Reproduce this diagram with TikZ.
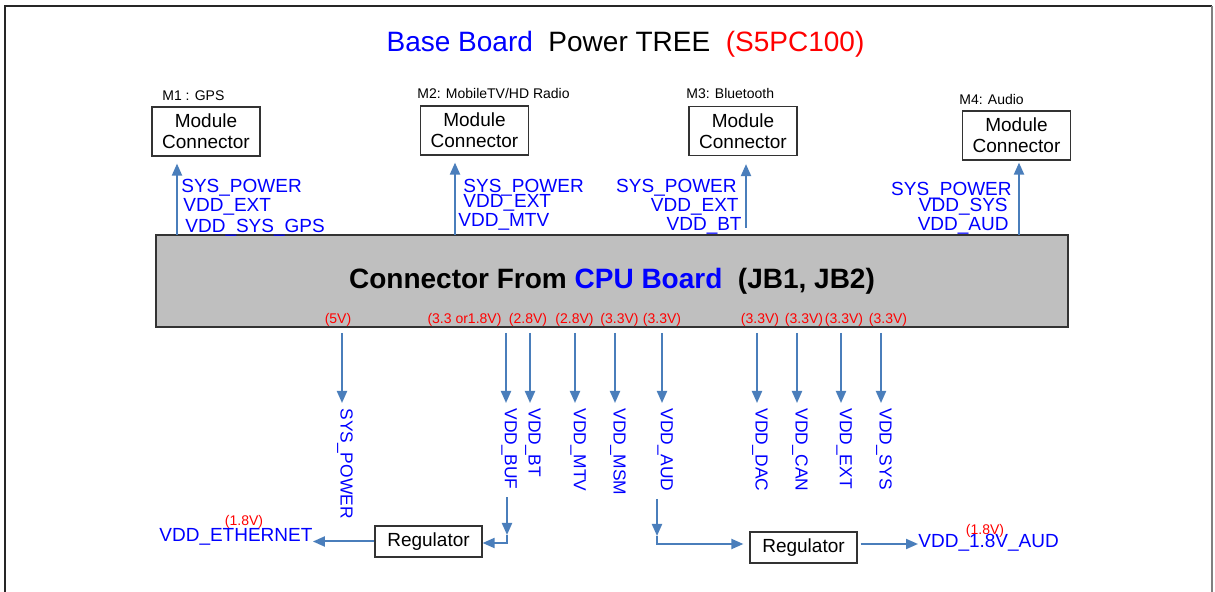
\documentclass[tikz,border=0pt]{standalone}
\usepackage{fontspec}
\setmainfont{Liberation Sans}
\usetikzlibrary{arrows.meta}
\definecolor{pwrblue}{RGB}{74,126,187}
\begin{document}
\begin{tikzpicture}[x=0.5pt,y=-0.5pt,
  pwr/.style={pwrblue,line width=1pt,-{Triangle[length=6pt,width=5pt]}},
  modbox/.style={draw=black!80,line width=0.6pt,minimum width=54pt,minimum height=24.5pt,align=center,inner sep=1pt,font=\fontsize{9.5}{10.5}\selectfont},
  regbox/.style={draw=black!80,line width=0.6pt,minimum width=53.5pt,minimum height=15.5pt,font=\fontsize{9.5}{11}\selectfont},
  mtitle/.style={anchor=west,inner sep=0pt,font=\fontsize{7}{8}\selectfont},
  sig/.style={blue,inner sep=0pt,font=\fontsize{9.5}{11}\selectfont},
  vsig/.style={blue,inner sep=1.5pt,rotate=-90,anchor=west,font=\fontsize{8.7}{10}\selectfont},
  volt/.style={red,inner sep=0pt,font=\fontsize{7}{8}\selectfont}]
\useasboundingbox (0,0) rectangle (1215,592);
\draw[black!85,line width=0.6pt] (5,592) -- (5,6) -- (1212,6);
\draw[gray,line width=1pt] (1212,6) -- (1212,592);
\node[anchor=base,inner sep=0pt,font=\fontsize{14}{16}\selectfont] (title) at (625.5,52)
  {\textcolor{blue}{Base Board}\ \ Power TREE\ \ \textcolor{red}{(S5PC100)}};

\node[draw=black!80,line width=0.8pt,fill=black!25,minimum width=456pt,minimum height=46pt,
  font=\bfseries\fontsize{14}{16}\selectfont] (cpu) at (612,281)
  {Connector From \textcolor{blue}{CPU Board}\ \ (JB1, JB2)};

\node[modbox] (m1) at (206,131.5) {Module\\Connector};
\node[modbox] (m2) at (474.5,130.5) {Module\\Connector};
\node[modbox] (m3) at (743,131) {Module\\Connector};
\node[modbox] (m4) at (1016.5,135.5) {Module\\Connector};
\node[mtitle] (t1) at (162,96) {M1 : GPS};
\node[mtitle] (t2) at (417,94) {M2: MobileTV/HD Radio};
\node[mtitle] (t3) at (686,94) {M3: Bluetooth};
\node[mtitle] (t4) at (959,100) {M4: Audio};

\coordinate (u1) at (177,235);
\coordinate (u2) at (455,235);
\coordinate (u3) at (746,228);
\coordinate (u4) at (1019,235);
\draw[pwr,shorten >=3.5pt] (u1) -- (u1 |- m1.south);
\draw[pwr,shorten >=3.5pt] (u2) -- (u2 |- m2.south);
\draw[pwr,shorten >=4pt] (u3) -- (u3 |- m3.south);
\draw[pwr,shorten >=1pt] (u4) -- (u4 |- m4.south);

\node[sig,anchor=base west] (a1) at (181,193) {SYS\_POWER};
\node[sig,anchor=base west] (a2) at (183,212) {VDD\_EXT};
\node[sig,anchor=base west] (a3) at (185,233) {VDD\_SYS\_GPS};
\node[sig,anchor=base west] (b1) at (463,193) {SYS\_POWER};
\node[sig,anchor=base west] (b2) at (463,208) {VDD\_EXT};
\node[sig,anchor=base west] (b3) at (458,227) {VDD\_MTV};
\node[sig,anchor=base east] (c1) at (737,193) {SYS\_POWER};
\node[sig,anchor=base east] (c2) at (739,212) {VDD\_EXT};
\node[sig,anchor=base east] (c3) at (742,231) {VDD\_BT};
\node[sig,anchor=base east] (e1) at (1012,196) {SYS\_POWER};
\node[sig,anchor=base east] (e2) at (1008,212) {VDD\_SYS};
\node[sig,anchor=base east] (e3) at (1009,231) {VDD\_AUD};

\foreach \x/\vx/\vt/\lb [count=\i] in {342/338/(5V)/SYS\_POWER, 506/464.5/(3.3 or1.8V)/VDD\_BUF,
    530/528/(2.8V)/VDD\_BT, 575/574.5/(2.8V)/VDD\_MTV, 615/619.5/(3.3V)/VDD\_MSM,
    662/662/(3.3V)/VDD\_AUD, 757/760/(3.3V)/VDD\_DAC, 797/804/(3.3V)/VDD\_CAN,
    841/844/(3.3V)/VDD\_EXT, 881/888/(3.3V)/VDD\_SYS}{
  \coordinate (s\i) at (\x,333);
  \node[volt] (v\i) at (\vx,320) {\vt};
  \node[vsig] (d\i) at (\x+3,405) {\lb};
  \draw[pwr,shorten >=1pt] (s\i) -- (s\i |- d\i.west);
}

\node[regbox] (reg1) at (428.5,541.5) {Regulator};
\node[regbox] (reg2) at (803.5,547.5) {Regulator};
\node[sig,anchor=base west] (eth) at (159,542) {VDD\_ETHERNET};
\node[volt] (ev) at (244,522) {(1.8V)};
\node[sig,anchor=base west] (out2) at (918,548) {VDD\_1.8V\_AUD};
\node[volt] (av) at (985,531) {(1.8V)};

\coordinate (k1) at (507,543);
\coordinate (k2) at (657,544);
\draw[pwr,shorten <=2pt] (d2.east -| k1) -- ([yshift=4pt]k1);
\draw[pwr] ([yshift=4pt]k1) -- (k1) -- (k1 -| reg1.east);
\draw[pwr] (reg1.west) -- (reg1.west -| eth.east);
\draw[pwr,shorten <=2pt] (d6.east -| k2) -- ([yshift=4pt]k2);
\draw[pwr,shorten >=3pt] ([yshift=4pt]k2) -- (k2) -- (k2 -| reg2.west);
\draw[pwr,shorten <=1.5pt] (k2 -| reg2.east) -- (k2 -| out2.west);
\end{tikzpicture}
\end{document}
